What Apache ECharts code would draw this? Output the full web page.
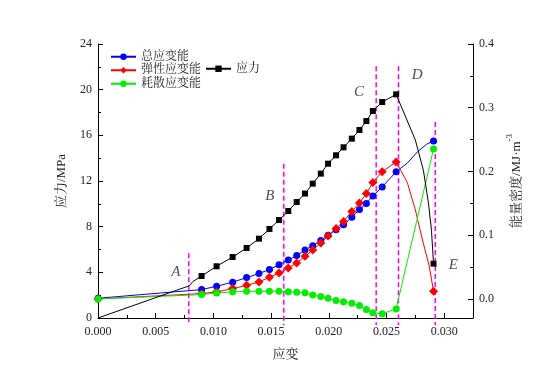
<!DOCTYPE html>
<html>
<head>
<meta charset="utf-8">
<script src="https://cdn.jsdelivr.net/npm/echarts@6/dist/echarts.min.js"></script>
<style>
html,body{margin:0;padding:0;background:#fff;}
#c{width:550px;height:384px;}
</style>
</head>
<body>
<div id="c"></div>
<script>
// ---- data ----
const markerStrain = [0.00898, 0.01028, 0.01167, 0.01288, 0.01395, 0.01486, 0.01569, 0.01649, 0.01722, 0.01794, 0.01861, 0.01931, 0.01994, 0.02063, 0.02128, 0.02200, 0.02266, 0.02326, 0.02382, 0.02463, 0.02584, 0.02908];
const stressMarked = [3.68, 4.53, 5.34, 6.13, 6.95, 7.80, 8.58, 9.37, 10.16, 10.90, 11.77, 12.65, 13.52, 14.25, 14.95, 15.71, 16.47, 17.25, 18.13, 18.92, 19.59, 4.76];
const totalMarked = [0.0146, 0.0198, 0.0263, 0.0334, 0.0397, 0.0462, 0.0534, 0.0610, 0.0679, 0.0768, 0.0835, 0.0918, 0.0999, 0.1086, 0.1165, 0.1282, 0.1404, 0.1498, 0.1615, 0.1757, 0.1995, 0.2478];
const elasticMarked = [0.0083, 0.0110, 0.0161, 0.0213, 0.0266, 0.0339, 0.0408, 0.0486, 0.0564, 0.0668, 0.0768, 0.0878, 0.0987, 0.1105, 0.1216, 0.1373, 0.1505, 0.1654, 0.1828, 0.1995, 0.2149, 0.0119];
const dissipMarked = [0.0067, 0.0094, 0.0110, 0.0119, 0.0120, 0.0120, 0.0120, 0.0112, 0.0105, 0.0095, 0.0060, 0.0036, 0.0008, -0.0024, -0.0045, -0.0069, -0.0102, -0.0168, -0.0219, -0.0234, -0.0157, 0.2351];
// starting energies at strain 0
const startEnergy = {total: 0.001, elastic: 0.0, dissip: 0.0};
const stressLeadStrain = [0, 0.0079, 0.00825];
const stressLead = [0, 2.82, 3.21];
const stressDropStrain = [0.0275, 0.0282, 0.02865, 0.0289];
const stressDrop = [15.6, 12.94, 10.0, 7.68];
const elasticDropStrain = [0.0268, 0.0275, 0.0281, 0.0287];
const elasticDrop = [0.183, 0.140, 0.094, 0.052];
const totalCurveStrain = [0.0268, 0.0277, 0.0285];
const totalCurve = [0.213, 0.231, 0.243];
// stage lines (strain) and their top (stress units)
const stageStrain = [0.00787, 0.0161, 0.02411, 0.02604, 0.02923];
const stageTop = [5.67, 13.52, 22.05, 22.05, 17.17];
const stageBottom = -0.64;
// stage letters
const stageLabels = [['A', 0.00674, 4.0], ['B', 0.0149, 10.66], ['C', 0.02263, 19.77], ['D', 0.02767, 21.26], ['E', 0.0308, 4.62]];
// ticks
const xTicks = [0, 0.005, 0.010, 0.015, 0.020, 0.025, 0.030];
const rightTicks = [0, 0.1, 0.2, 0.3, 0.4];
const rightMinor = [0.05, 0.15, 0.25, 0.35];

// ---- build ----
const mk = (x, y) => ({value: [x, y]});
const un = (x, y) => ({value: [x, y], symbol: 'none'});
function build(first, marked, extraX, extraY) {
  const d = [];
  if (first) d.push(...first);
  for (let i = 0; i < markerStrain.length - 1; i++) d.push(mk(markerStrain[i], marked[i]));
  extraX.forEach((x, i) => d.push(un(x, extraY[i])));
  const L = markerStrain.length - 1;
  d.push(mk(markerStrain[L], marked[L]));
  return d;
}
const stressData = build(stressLeadStrain.map((x, i) => un(x, stressLead[i])), stressMarked, stressDropStrain, stressDrop);
const totalData = build([mk(0, startEnergy.total)], totalMarked, totalCurveStrain, totalCurve);
const elasticData = build([mk(0, startEnergy.elastic)], elasticMarked, elasticDropStrain, elasticDrop);
const dissipData = build([mk(0, startEnergy.dissip)], dissipMarked, [], []);

const SERIF = "'Liberation Serif','Noto Serif CJK SC','Noto Sans CJK SC',serif";
const TXT = '#222';

const chart = echarts.init(document.getElementById('c'), null, {renderer: 'canvas'});
const axisCommon = {
  axisLine: {show: true, lineStyle: {color: '#000', width: 1}},
  axisTick: {show: true, inside: true, length: 5, lineStyle: {color: '#000'}},
  minorTick: {show: true, splitNumber: 2, length: 3, lineStyle: {color: '#000'}},
  splitLine: {show: false},
  axisLabel: {color: TXT, fontFamily: SERIF, fontSize: 12},
  nameTextStyle: {color: TXT, fontFamily: SERIF, fontSize: 13}
};
const isTick = v => xTicks.some(t => Math.abs(t - v) < 1e-9);

const stageSeries = stageStrain.map((x, i) => ({
  name: 'stage' + i, type: 'line', yAxisIndex: 0, clip: false, silent: true,
  symbol: 'none', data: [[x, stageTop[i]], [x, stageBottom]],
  lineStyle: {color: '#ff00ff', type: [5, 3], width: 1.5}, z: 1
}));

chart.setOption({
  animation: false,
  backgroundColor: '#fff',
  grid: {left: 98, right: 77, top: 44, bottom: 66, containLabel: false, outerBoundsMode: 'none'},
  legend: [{
    orient: 'vertical', left: 105, top: 45, itemWidth: 25, itemHeight: 8, itemGap: 0,
    data: ['总应变能', '弹性应变能', '耗散应变能'],
    textStyle: {color: TXT, fontFamily: SERIF, fontSize: 12, lineHeight: 13.5}
  }, {
    orient: 'vertical', left: 200, top: 57, itemWidth: 25, itemHeight: 8,
    data: ['应力'],
    textStyle: {color: TXT, fontFamily: SERIF, fontSize: 12, lineHeight: 13.5}
  }],
  xAxis: Object.assign({}, axisCommon, {
    type: 'value', min: 0, max: 0.0325, interval: 0.005,
    name: '应变', nameLocation: 'middle', nameGap: 30,
    axisLabel: Object.assign({}, axisCommon.axisLabel, {margin: 8, formatter: v => isTick(v) ? v.toFixed(3) : ''})
  }),
  yAxis: [
    Object.assign({}, axisCommon, {
      type: 'value', min: 0, max: 24, interval: 4, position: 'left',
      name: '应力/MPa', nameLocation: 'middle', nameGap: 30, nameRotate: 90,
      axisLabel: Object.assign({}, axisCommon.axisLabel, {margin: 6})
    }),
    Object.assign({}, axisCommon, {
      type: 'value', min: -0.03, max: 0.4, position: 'right', alignTicks: false,
      name: '{a|能量密度/MJ·m}{b|-3}', nameLocation: 'middle', nameGap: 28, nameRotate: 90,
      nameTextStyle: {color: TXT, fontFamily: SERIF, fontSize: 13, rich: {
        a: {fontFamily: SERIF, fontSize: 13, color: TXT, lineHeight: 18, verticalAlign: 'bottom'},
        b: {fontFamily: SERIF, fontSize: 9, color: TXT, lineHeight: 18, verticalAlign: 'top'}
      }},
      minorTick: {show: false},
      axisTick: {show: true, inside: true, length: 5, lineStyle: {color: '#000'}, customValues: rightTicks},
      axisLabel: Object.assign({}, axisCommon.axisLabel, {margin: 6, customValues: rightTicks, formatter: v => v.toFixed(1)})
    }),
    {
      type: 'value', min: -0.03, max: 0.4, position: 'right', alignTicks: false,
      axisLine: {show: false}, axisLabel: {show: false}, splitLine: {show: false},
      axisTick: {show: true, inside: true, length: 3, lineStyle: {color: '#000'}, customValues: rightMinor}
    }
  ],
  series: stageSeries.concat([
    {
      name: '总应变能', type: 'line', yAxisIndex: 1, data: totalData,
      symbol: 'circle', symbolSize: 7, showAllSymbol: true,
      itemStyle: {color: '#0000ff'}, lineStyle: {color: '#0000ff', width: 1}
    },
    {
      name: '弹性应变能', type: 'line', yAxisIndex: 1, data: elasticData,
      symbol: 'diamond', symbolSize: 9, showAllSymbol: true,
      itemStyle: {color: '#ff0000'}, lineStyle: {color: '#ff0000', width: 1}
    },
    {
      name: '耗散应变能', type: 'line', yAxisIndex: 1, data: dissipData,
      symbol: 'circle', symbolSize: 7, showAllSymbol: true,
      itemStyle: {color: '#00ee00'}, lineStyle: {color: '#00ee00', width: 1}
    },
    {
      name: '应力', type: 'line', yAxisIndex: 0, data: stressData, clip: false,
      symbol: 'rect', symbolSize: 6, showAllSymbol: true,
      itemStyle: {color: '#000'}, lineStyle: {color: '#000', width: 1}
    },
    {
      name: 'labels', type: 'scatter', yAxisIndex: 0, silent: true,
      symbolSize: 2, itemStyle: {color: 'rgba(0,0,0,0)'},
      data: stageLabels.map(s => ({value: [s[1], s[2]], name: s[0]})),
      label: {show: true, position: 'inside', formatter: p => p.name,
        fontFamily: SERIF, fontStyle: 'italic', fontSize: 15, color: TXT}
    }
  ])
});
</script>
</body>
</html>
